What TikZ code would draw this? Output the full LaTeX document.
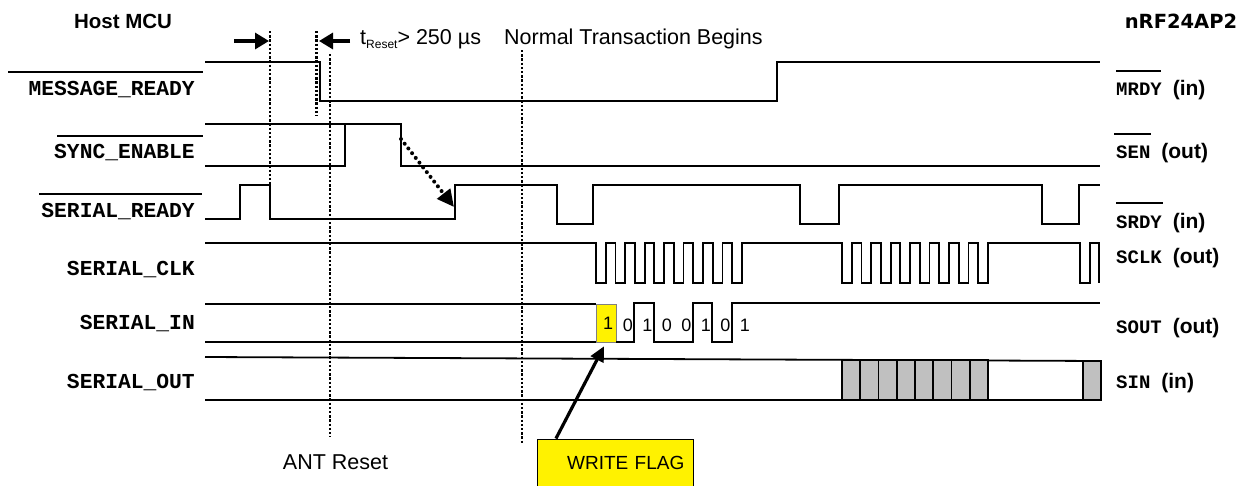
\documentclass[tikz,border=0pt]{standalone}
\usepackage{fontspec}
\setmainfont{Liberation Sans}
\newfontfamily\sigfont{Liberation Mono}
\newfontfamily\chipfont{DejaVu Sans}
\usetikzlibrary{arrows.meta}
\definecolor{cellgray}{RGB}{192,192,192}
\newcommand\pinlabel[2]{#1\hspace{11pt}{\normalfont\bfseries\fontsize{21}{21}\selectfont(#2)}}
\tikzset{
  wave/.style={line width=1.8pt, line join=miter},
  bar/.style={line width=1.5pt},
  marker/.style={line width=2.4pt, dash pattern=on 2.4pt off 1.8pt},
  sigleft/.style={anchor=base east, inner sep=0pt, font=\sigfont\bfseries\fontsize{21.3}{21.3}\selectfont},
  sigright/.style={anchor=base west, inner sep=0pt, font=\sigfont\bfseries\fontsize{19}{19}\selectfont},
  head/.style={anchor=base, inner sep=0pt, font=\bfseries\fontsize{20.5}{20.5}\selectfont},
  note/.style={inner sep=0pt, font=\fontsize{21.5}{21.5}\selectfont},
  bit/.style={anchor=base, inner sep=0pt, font=\fontsize{18}{18}\selectfont},
}
\begin{document}
\begin{tikzpicture}[x=1pt, y=-1pt]
    \useasboundingbox (0,0) rectangle (1248,485);
    % headings
    \node[head] (host) at (123,28) {Host MCU};
    \node[head, font=\chipfont\bfseries\fontsize{19.5}{19.5}\selectfont] (chip) at (1181,28) {nRF24AP2};
    % host side names
    \node[sigleft] (mrdyL) at (195,95) {MESSAGE\_READY};
    \node[sigleft] (senL) at (195,158) {SYNC\_ENABLE};
    \node[sigleft] (srdyL) at (195,217) {SERIAL\_READY};
    \node[sigleft] (sclkL) at (195,275) {SERIAL\_CLK};
    \node[sigleft] (sinL) at (195,329) {SERIAL\_IN};
    \node[sigleft] (soutL) at (195,388) {SERIAL\_OUT};
    \draw[bar] (8,72) -- (203,72);
    \draw[bar] (57,136) -- (203,136);
    \draw[bar] (39,194) -- (202,194);
    % chip side names
    \node[sigright] (mrdyR) at (1116,95) {\pinlabel{MRDY}{in}};
    \node[sigright] (senR) at (1116,158) {\pinlabel{SEN}{out}};
    \node[sigright] (srdyR) at (1116,228) {\pinlabel{SRDY}{in}};
    \node[sigright] (sclkR) at (1116,263) {\pinlabel{SCLK}{out}};
    \node[sigright] (soutR) at (1116,333) {\pinlabel{SOUT}{out}};
    \node[sigright] (sinR) at (1116,388) {\pinlabel{SIN}{in}};
    \draw[bar] (1116,71) -- (1161,71);
    \draw[bar] (1114,134) -- (1151,134);
    \draw[bar] (1116,203) -- (1163,203);
    % markers
    \draw[marker] (270,31) -- (270,185);
    \draw[marker] (316.5,31) -- (316.5,116);
    \draw[marker] (330,54) -- (330,437);
    \draw[marker] (522,50) -- (522,444);
    % MESSAGE_READY
    \draw[wave] (205,62) -- (320,62) -- (320,101) -- (777,101) -- (777,62) -- (1100,62);
    % SYNC_ENABLE
    \draw[wave] (205,124) -- (401,124) -- (401,166) -- (1100,166);
    \draw[wave] (205,166) -- (345,166) -- (345,124);
    % SERIAL_READY
    \draw[wave] (205,219) -- (240,219) -- (240,185) -- (270,185) -- (270,219) -- (455,219)
        -- (455,185) -- (557,185) -- (557,224) -- (593,224) -- (593,185) -- (800,185)
        -- (800,224) -- (839,224) -- (839,185) -- (1042,185) -- (1042,224) -- (1079,224)
        -- (1079,185) -- (1100,185);
    % SERIAL_CLK
    \draw[wave] (205,243) -- (596,243)
        foreach \i in {1,...,8} { -- ++(0,40) -- ++(9.73,0) -- ++(0,-40) -- ++(9.73,0) }
        -- (842,243)
        foreach \i in {1,...,8} { -- ++(0,40) -- ++(9.73,0) -- ++(0,-40) -- ++(9.73,0) }
        -- (1080,243) -- (1080,283) -- (1090,283) -- (1090,243) -- (1099,243) -- (1099,283);
    % SERIAL_IN
    \draw[wave] (205,304) -- (596,304);
    \draw[wave] (205,342) -- (596,342);
    \node[fill=yellow, draw=black!50, line width=0.6pt, minimum width=20pt, minimum height=38pt,
        inner sep=0pt, font=\fontsize{18}{18}\selectfont] (b0) at (606,323) {\hspace{4pt}1};
    \draw[wave] (616,342) -- (634,342) -- (634,303) -- (654,303) -- (654,342) -- (693,342)
        -- (693,303) -- (712,303) -- (712,342) -- (732,342) -- (732,303) -- (1100,303);
    \foreach \v [count=\k] in {0,1,0,0,1,0,1}
        \node[bit] (b\k) at ({608.5+19.47*\k},331) {\v};
    % SERIAL_OUT
    \draw[wave] (205,357) -- (1100,361);
    \draw[wave] (205,400) -- (1100,400);
    \foreach \i in {0,...,7}
        \draw[wave, fill=cellgray] ({842+18.25*\i},360) rectangle ++(18.25,40);
    \draw[wave, fill=cellgray] (1083,361) rectangle (1101,400);
    % timing annotations
    \coordinate (spanL) at (234,41);
    \coordinate (spanLtip) at (269,41);
    \coordinate (spanR) at (350,41);
    \coordinate (spanRtip) at (319,41);
    \draw[line width=3.2pt, -{Triangle[length=14pt,width=16pt]}] (spanL) -- (spanLtip);
    \draw[line width=3.2pt, -{Triangle[length=14pt,width=16pt]}] (spanR) -- (spanRtip);
    \node[note, anchor=base west] (treset) at (360,44) {t\raisebox{-4pt}{\fontsize{12}{12}\selectfont Reset}> 250 µs};
    \node[note, anchor=base west] (normal) at (504,44) {Normal Transaction Begins};
    \node[note, anchor=base] (antreset) at (335.5,469) {ANT Reset};
    \coordinate (senfall) at (401,139);
    \coordinate (srdyrise) at (454,207);
    \draw[line width=4pt, dash pattern=on 0pt off 6pt, line cap=round,
        -{Triangle[length=17pt,width=16pt]}] (senfall) -- (srdyrise);
    % write flag
    \node[draw, line width=1.5pt, fill=yellow, minimum width=155.6pt, minimum height=48pt,
        inner xsep=9pt, text width=137.6pt, align=right, font=\fontsize{19}{19}\selectfont]
        (flag) at (615.5,463.3) {WRITE FLAG};
    \draw[line width=3.2pt, -{Triangle[length=15pt,width=14pt]}] ([xshift=19pt]flag.north west) -- ([xshift=-2pt,yshift=-4pt]b0.south);
\end{tikzpicture}
\end{document}
